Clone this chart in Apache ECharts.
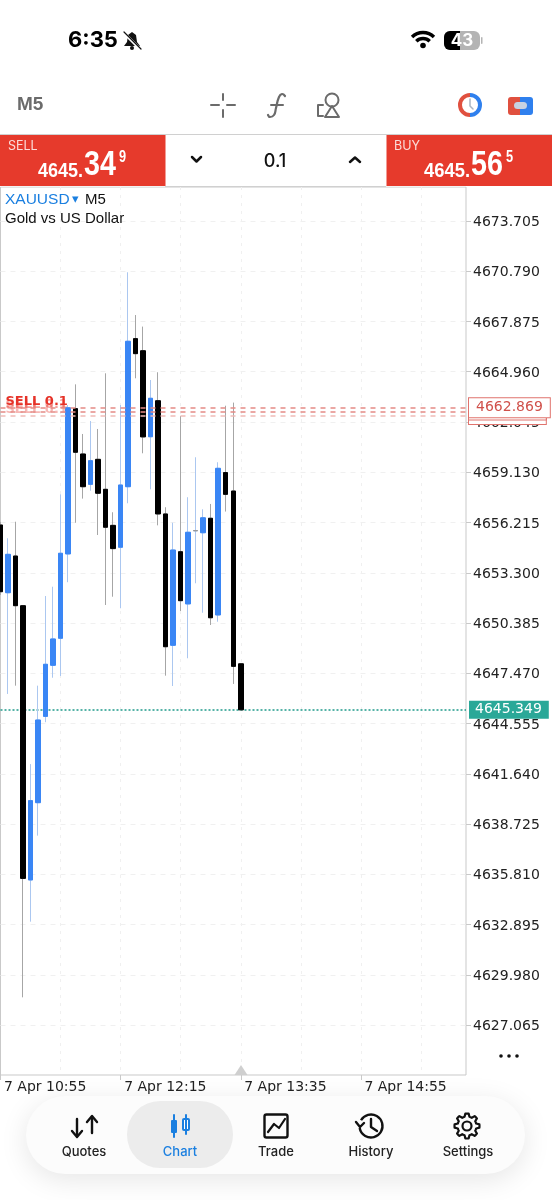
<!DOCTYPE html>
<html>
<head>
<meta charset="utf-8">
<title>XAUUSD M5</title>
<style>
html, body { margin: 0; padding: 0; background: #fff; }
#container { width: 552px; height: 1200px; }
</style>
<script src="https://cdn.jsdelivr.net/npm/echarts@6/dist/echarts.min.js"></script>
</head>
<body>
<div id="container"></div>
<script>
// 5 minute slots, chart shows 33 candles and empty room on the right
var categories = [
  '7 Apr 10:55','7 Apr 11:00','7 Apr 11:05','7 Apr 11:10','7 Apr 11:15','7 Apr 11:20','7 Apr 11:25','7 Apr 11:30',
  '7 Apr 11:35','7 Apr 11:40','7 Apr 11:45','7 Apr 11:50','7 Apr 11:55','7 Apr 12:00','7 Apr 12:05','7 Apr 12:10',
  '7 Apr 12:15','7 Apr 12:20','7 Apr 12:25','7 Apr 12:30','7 Apr 12:35','7 Apr 12:40','7 Apr 12:45','7 Apr 12:50',
  '7 Apr 12:55','7 Apr 13:00','7 Apr 13:05','7 Apr 13:10','7 Apr 13:15','7 Apr 13:20','7 Apr 13:25','7 Apr 13:30',
  '7 Apr 13:35','7 Apr 13:40','7 Apr 13:45','7 Apr 13:50','7 Apr 13:55','7 Apr 14:00','7 Apr 14:05','7 Apr 14:10',
  '7 Apr 14:15','7 Apr 14:20','7 Apr 14:25','7 Apr 14:30','7 Apr 14:35','7 Apr 14:40','7 Apr 14:45','7 Apr 14:50',
  '7 Apr 14:55','7 Apr 15:00','7 Apr 15:05','7 Apr 15:10','7 Apr 15:15','7 Apr 15:20','7 Apr 15:25','7 Apr 15:30',
  '7 Apr 15:35','7 Apr 15:40','7 Apr 15:45','7 Apr 15:50','7 Apr 15:55','7 Apr 16:00','7 Apr 16:05'
];
var opens = [4656.07,4652.14,4654.27,4651.39,4635.48,4639.96,4644.97,4647.93,4649.50,4654.39,4662.82,
  4660.19,4658.43,4659.88,4658.14,4656.05,4654.78,4658.29,4666.88,4666.18,4661.19,4663.28,
  4656.71,4649.09,4654.52,4651.49,4655.73,4655.62,4656.46,4650.85,4659.11,4658.04,4648.02];
var closes = [4652.20,4654.37,4651.39,4635.57,4640.08,4644.76,4647.99,4649.46,4654.43,4662.87,4660.29,
  4658.29,4659.80,4657.91,4655.94,4654.70,4658.39,4666.73,4666.01,4661.18,4663.42,4656.71,
  4649.01,4654.62,4651.68,4655.65,4655.75,4656.49,4650.69,4659.36,4657.85,4647.87,4645.349];
var lows = [4652.01,4646.27,4646.75,4628.67,4633.06,4638.05,4644.63,4647.21,4647.31,4652.75,4656.20,
  4657.60,4658.06,4655.49,4651.43,4651.91,4651.24,4657.33,4664.58,4660.23,4658.14,4656.05,
  4647.33,4646.73,4651.08,4648.34,4652.69,4650.98,4650.27,4650.46,4656.85,4646.85,4645.349];
var highs = [4656.25,4655.30,4656.26,4651.43,4642.20,4646.75,4651.95,4652.49,4657.85,4663.03,4664.23,
  4661.35,4662.10,4661.64,4664.87,4656.81,4663.03,4670.73,4668.25,4667.58,4664.48,4664.93,
  4657.10,4656.20,4662.39,4657.68,4660.00,4656.98,4657.29,4659.71,4662.99,4663.17,4648.02];
var priceTicks = [4627.065,4629.980,4632.895,4635.810,4638.725,4641.640,4644.555,4647.470,4650.385,
  4653.300,4656.215,4659.130,4662.045,4664.960,4667.875,4670.790,4673.705];
var orderPrices = [4662.39, 4662.65, 4662.869];
var bidPrice = 4645.349;

var axisFont = 'DejaVu Sans';
var uiFont = 'Inter, "Liberation Sans", sans-serif';
var priceFont = '"Liberation Sans", sans-serif';
var red = '#e63a2c', blue = '#1a7fe0', gray = '#6b6b6b';

var dom = document.getElementById('container');
var myChart = echarts.init(dom, null, { width: 552, height: 1200 });

var wickData = [], bodyData = [];
opens.forEach(function (o, i) {
  var c = closes[i];
  wickData.push([o, c, lows[i], highs[i]]);
  var body = { value: [o, c, Math.min(o, c), Math.max(o, c)] };
  if (Math.abs(o - c) < 0.05) body.itemStyle = { borderColor: '#999', color: '#999' };
  bodyData.push(body);
});

function T(text, x, y, font, fill, align) {
  return { type: 'text', z: 10, silent: true,
    style: { text: text, x: x, y: y, font: font, fill: fill, textAlign: align || 'left', textVerticalAlign: 'middle' } };
}
// squeezed text for the quote digits, no condensed font is installed
function N(text, x, y, font, sx) {
  return { type: 'text', z: 10, silent: true, x: x, y: y, scaleX: sx,
    style: { text: text, x: 0, y: 0, font: font, fill: '#fff', textAlign: 'left', textVerticalAlign: 'middle' } };
}
function R(x, y, w, h, fill, r, extra) {
  var st = { fill: fill };
  for (var k in extra) st[k] = extra[k];
  return { type: 'rect', z: 9, silent: true, shape: { x: x, y: y, width: w, height: h, r: r || 0 }, style: st };
}
function P(points, color, lw, smooth) {
  return { type: 'polyline', z: 10, silent: true, shape: { points: points, smooth: smooth || 0 },
    style: { stroke: color, lineWidth: lw, fill: null, lineCap: 'round', lineJoin: 'round' } };
}
function G(points, fill) {
  return { type: 'polygon', z: 10, silent: true, shape: { points: points }, style: { fill: fill } };
}
function C(cx, cy, r, fill, stroke, lw) {
  return { type: 'circle', z: 10, silent: true, shape: { cx: cx, cy: cy, r: r },
    style: { fill: fill || null, stroke: stroke || null, lineWidth: lw || 0 } };
}
function A(cx, cy, r, a0, a1, color, lw) {
  return { type: 'arc', z: 10, silent: true,
    shape: { cx: cx, cy: cy, r: r, startAngle: a0, endAngle: a1, clockwise: true },
    style: { stroke: color, lineWidth: lw, fill: null } };
}

var ink = '#111';
var deg = Math.PI / 180;
var gearPts = [];
for (var g = 0; g < 48; g++) {
  var phase = g % 6;
  var gr = (phase < 2 || phase === 5) ? 12.5 : 9.5;
  gearPts.push([467 + gr * Math.cos(g * 7.5 * deg), 1126 + gr * Math.sin(g * 7.5 * deg)]);
}

var chrome = [
  // status bar
  T('6:35', 68, 40, 'bold 22px ' + uiFont, '#000'),
  G([[132, 32], [136, 35], [137, 42], [140, 46], [124, 46], [127, 42], [128, 35]], '#111'),
  C(132, 48, 2, '#111'),
  P([[123, 32], [141, 50]], '#fff', 3),
  P([[124, 32], [141, 49]], '#111', 1.2),
  A(423, 48, 15.5, 225 * deg, 315 * deg, '#000', 3.4),
  A(423, 48, 9.5, 225 * deg, 315 * deg, '#000', 3.4),
  C(423, 45.5, 2.8, '#000'),
  R(444, 31, 36, 19, '#b4b4b4', 6),
  R(444, 31, 16, 19, '#000', [6, 0, 0, 6]),
  R(481, 37, 1.5, 7, '#b4b4b4', 1),
  T('43', 462, 41, 'bold 17px ' + uiFont, '#fff', 'center'),

  // toolbar
  T('M5', 17, 105, 'bold 19px ' + priceFont, gray),
  P([[211, 105], [219, 105]], gray, 2), P([[227, 105], [235, 105]], gray, 2),
  P([[223, 94], [223, 100]], gray, 2), P([[223, 110], [223, 117]], gray, 2),
  P([[285, 96], [282, 94], [279, 97], [276, 108], [274, 115], [270, 117], [268, 115]], gray, 2.2, 0.5),
  P([[271, 105], [283, 105]], gray, 2),
  C(332, 100, 6.5, null, gray, 2),
  P([[325, 117], [339, 117], [332, 106], [325, 117]], gray, 2),
  P([[323, 105], [318, 105], [318, 116], [323, 116]], gray, 2),
  A(470, 105, 10, 90 * deg, 270 * deg, '#e0503f', 4),
  A(470, 105, 10, 270 * deg, 450 * deg, '#2f80ee', 4),
  P([[470, 99], [470, 106], [473, 109]], '#a9b4c2', 1.5),
  R(508, 97, 13, 18, '#e0503f', [3, 0, 0, 3]),
  R(520, 97, 13, 18, '#2f80ee', [0, 3, 3, 0]),
  R(514, 102, 13, 7, '#c6d2e2', 3.5),

  // trade bar
  R(0, 134, 552, 52.5, '#fff'),
  R(0, 134, 552, 1, '#d0d0d0'),
  R(165, 186, 221, 1, '#d0d0d0'),
  R(0, 135, 165.5, 51, red),
  R(386.5, 135, 165.5, 51, red),
  T('SELL', 8, 146, '12.5px ' + uiFont, '#fbdcd8'),
  N('4645.', 38, 171, 'bold 20px ' + priceFont, 0.9),
  N('34', 84, 165, 'bold 35px ' + priceFont, 0.82),
  N('9', 119, 157, 'bold 17px ' + priceFont, 0.75),
  T('BUY', 394, 146, '12.5px ' + uiFont, '#fbdcd8'),
  N('4645.', 424, 171, 'bold 20px ' + priceFont, 0.92),
  N('56', 471, 165, 'bold 35px ' + priceFont, 0.82),
  N('5', 506, 157, 'bold 17px ' + priceFont, 0.75),
  T('0.1', 275, 162, '500 18px ' + uiFont, '#111', 'center'),
  P([[192, 157], [196.5, 161.5], [201, 157]], '#111', 2.5),
  P([[350, 162], [355, 157.5], [360, 162]], '#111', 2.5),

  // chart caption
  T('XAUUSD', 5, 200, '15.5px "Liberation Sans", sans-serif', blue),
  T('\u25BE', 72, 200, '13px "DejaVu Sans"', blue),
  T('M5', 85, 200, '15px "Liberation Sans", sans-serif', '#111'),
  T('Gold vs US Dollar', 5, 218.5, '15px "Liberation Sans", sans-serif', '#111'),

  // scroll marker and menu dots
  G([[234.5, 1075], [247.5, 1075], [241, 1065]], '#cfcfcf'),
  C(501, 1056, 1.8, '#111'), C(509, 1056, 1.8, '#111'), C(517, 1056, 1.8, '#111'),

  // bottom nav
  R(26, 1096, 499, 78, '#fcfcfc', 39, { shadowBlur: 28, shadowColor: 'rgba(0,0,0,0.10)', shadowOffsetY: 6 }),
  R(127, 1101, 106, 67, '#ececec', 33),
  P([[77, 1119], [77, 1136]], ink, 2.4), P([[72, 1131], [77, 1137], [82, 1131]], ink, 2.4),
  P([[92, 1117], [92, 1133]], ink, 2.4), P([[87, 1122], [92, 1116], [97, 1122]], ink, 2.4),
  P([[174, 1115], [174, 1137]], blue, 2), R(171, 1120, 6, 13, blue, 1, { }),
  P([[186, 1115], [186, 1134]], blue, 2), R(183, 1119, 6, 11, '#fff', 1, { stroke: blue, lineWidth: 2 }),
  R(264.5, 1114.5, 23, 23, 'none', 2, { stroke: ink, lineWidth: 2.4 }),
  P([[268, 1132], [274, 1124], [279, 1128], [285, 1119]], ink, 2.2),
  A(371, 1126, 11.5, -150 * deg, 170 * deg, ink, 2.4),
  P([[356, 1122], [360, 1127], [364, 1123]], ink, 2.4),
  P([[371, 1119], [371, 1127], [377, 1131]], ink, 2.4),
  { type: 'polygon', z: 10, silent: true, shape: { points: gearPts },
    style: { fill: null, stroke: ink, lineWidth: 2.2, lineJoin: 'round' } },
  C(467, 1126, 4.5, null, ink, 2.2),
  T('Quotes', 84, 1152, '500 13px ' + uiFont, '#222', 'center'),
  T('Chart', 180, 1152, '500 13px ' + uiFont, blue, 'center'),
  T('Trade', 276, 1152, '500 13px ' + uiFont, '#222', 'center'),
  T('History', 371, 1152, '500 13px ' + uiFont, '#222', 'center'),
  T('Settings', 468, 1152, '500 13px ' + uiFont, '#222', 'center')
];

function orderTag(price, opacity) {
  return { yAxis: price, lineStyle: { width: 0 }, label: { show: true, formatter: 'SELL 0.1', position: 'insideStartTop', distance: 0,
    padding: [0, 0, 0, 5], color: 'rgba(230,50,40,' + opacity + ')',
    fontFamily: 'DejaVu Sans', fontWeight: 'bold', fontSize: 13 } };
}
function orderBox(price, strong, lineColor) {
  return { yAxis: price,
    lineStyle: { color: lineColor },
    label: { show: true, position: 'end', distance: 3, formatter: price.toFixed(3),
      color: strong ? '#d0504a' : '#f2c0bc', fontFamily: axisFont, fontSize: 14,
      backgroundColor: '#fff', borderColor: '#e0736d', borderWidth: 1,
      padding: strong ? [4, 7, 1, 7] : [1, 5, 1, 5] } };
}

var option = {
  animation: false,
  backgroundColor: '#fff',
  grid: { left: 0.5, top: 187, width: 465.5, height: 888, show: true, borderColor: '#c9c9c9', borderWidth: 1 },
  xAxis: {
    type: 'category', data: categories, boundaryGap: false,
    axisLine: { show: false },
    axisTick: { interval: 15, length: 5, lineStyle: { color: '#c9c9c9' } },
    axisLabel: { interval: 15, align: 'left', margin: 5, padding: [0, 0, 0, 3.5], color: '#222',
      fontFamily: axisFont, fontSize: 14 },
    splitLine: { show: true, interval: 7, showMinLine: false, lineStyle: { color: '#f0f0f0', type: [3, 5] } }
  },
  yAxis: {
    type: 'value', position: 'right', min: 4624.165, max: 4675.677, scale: true,
    axisLine: { show: false },
    axisTick: { show: true, length: 5, customValues: priceTicks, lineStyle: { color: '#c9c9c9' } },
    // top align on a short line box drops the text just under its tick, like the app does
    axisLabel: { customValues: priceTicks, margin: 7, verticalAlign: 'top', lineHeight: 3, color: '#222', fontFamily: axisFont, fontSize: 14,
      formatter: function (v) { return v.toFixed(3); } },
    splitLine: { show: true, lineStyle: { color: '#f0f0f0', type: [5, 5] } }
  },
  series: [
    {
      name: 'wicks', type: 'candlestick', barWidth: 4, data: wickData,
      itemStyle: { color: '#abc7f0', color0: '#a6a6a6', borderColor: '#abc7f0', borderColor0: '#a6a6a6', borderWidth: 1 },
      // under the candles
      markLine: {
        silent: true, symbol: 'none', z: 1,
        data: [
          orderTag(orderPrices[0], 0.35), orderTag(orderPrices[1], 0.45), orderTag(orderPrices[2], 1),
          { yAxis: bidPrice,
            lineStyle: { color: '#1f9a8a', width: 1.5, type: [2, 2] },
            label: { show: false } }
        ]
      }
    },
    {
      name: 'bodies', type: 'candlestick', barWidth: 5, data: bodyData,
      itemStyle: { color: '#3a86f5', color0: '#000', borderColor: '#3a86f5', borderColor0: '#000', borderWidth: 1 },
      // own layer so the price boxes sit on top of the axis labels
      markLine: {
        silent: true, symbol: 'none', zlevel: 1,
        lineStyle: { width: 1.5, type: [5, 5] },
        data: [
          orderBox(orderPrices[0], false, '#f0bcb8'),
          orderBox(orderPrices[1], false, '#e58a85'),
          orderBox(orderPrices[2], true, '#e58a85'),
          { yAxis: bidPrice,
            lineStyle: { width: 0 },
            label: { show: true, position: 'end', distance: 3, formatter: bidPrice.toFixed(3),
              color: '#fff', fontFamily: axisFont, fontSize: 14, backgroundColor: '#2aa898',
              padding: [3, 7, 1, 6] } }
        ]
      }
    }
  ],
  graphic: { elements: chrome }
};

myChart.setOption(option, true);
window.addEventListener('resize', function () {
  myChart.resize();
});
</script>
</body>
</html>
